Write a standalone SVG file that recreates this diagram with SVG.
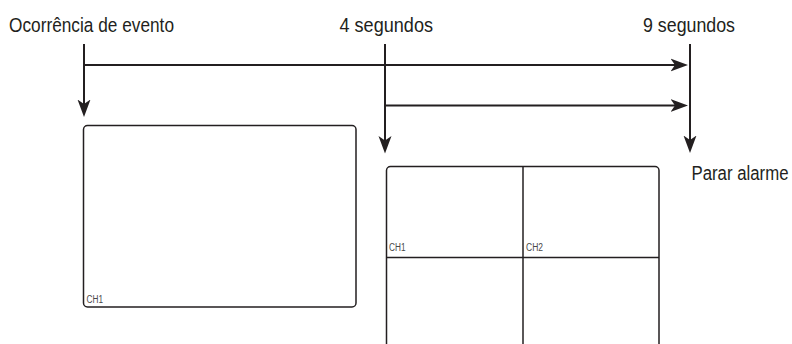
<svg xmlns="http://www.w3.org/2000/svg" width="792" height="344" viewBox="0 0 792 344">
<style>
.lbl{font-family:"Liberation Sans",Arial,sans-serif;font-size:20.5px;fill:#231f20}
.ch{font-family:"Liberation Sans",Arial,sans-serif;font-size:10px;fill:#4a4a4a}
.ln{stroke:#231f20;stroke-width:2;fill:none}
.scr{stroke:#231f20;stroke-width:1.5;fill:#fff}
.div{stroke:#231f20;stroke-width:1.5}
</style>
<defs>
<marker id="ah" viewBox="0 0 18 14" refX="11" refY="7" markerWidth="18" markerHeight="14" markerUnits="userSpaceOnUse" orient="auto">
<path d="M17.5,7 L0,0.5 L4.5,7 L0,13.5 Z" fill="#231f20"/>
</marker>
</defs>
<g id="labels">
<text class="lbl" x="9" y="32" textLength="165" lengthAdjust="spacingAndGlyphs">Ocorrência de evento</text>
<text class="lbl" x="339.5" y="32" textLength="93.5" lengthAdjust="spacingAndGlyphs">4 segundos</text>
<text class="lbl" x="643" y="32" textLength="92" lengthAdjust="spacingAndGlyphs">9 segundos</text>
<text class="lbl" transform="translate(691.5,180) scale(1,1.14)" x="0" y="0" style="font-size:17.5px" textLength="97" lengthAdjust="spacingAndGlyphs">Parar alarme</text>
</g>
<g id="connectors">
<path class="ln" d="M84,44 V110.5" marker-end="url(#ah)"/>
<path class="ln" d="M385,44 V147" marker-end="url(#ah)"/>
<path class="ln" d="M690,44 V146.5" marker-end="url(#ah)"/>
<path class="ln" d="M84,65 H681.5" marker-end="url(#ah)"/>
<path class="ln" d="M385,105.5 H681.5" marker-end="url(#ah)"/>
</g>
<g id="screen1">
<rect class="scr" x="83.5" y="125.5" width="272.5" height="181.5" rx="4"/>
<text class="ch" x="86.5" y="302.5" textLength="16.5" lengthAdjust="spacingAndGlyphs">CH1</text>
</g>
<g id="screen2">
<rect class="scr" x="386.5" y="166.5" width="272.5" height="190" rx="4"/>
<line class="div" x1="523" y1="166.5" x2="523" y2="344"/>
<line class="div" x1="386.5" y1="257.5" x2="659" y2="257.5"/>
<text class="ch" x="389" y="250.5" textLength="16.5" lengthAdjust="spacingAndGlyphs">CH1</text>
<text class="ch" x="526" y="250.5" textLength="17" lengthAdjust="spacingAndGlyphs">CH2</text>
</g>
</svg>
